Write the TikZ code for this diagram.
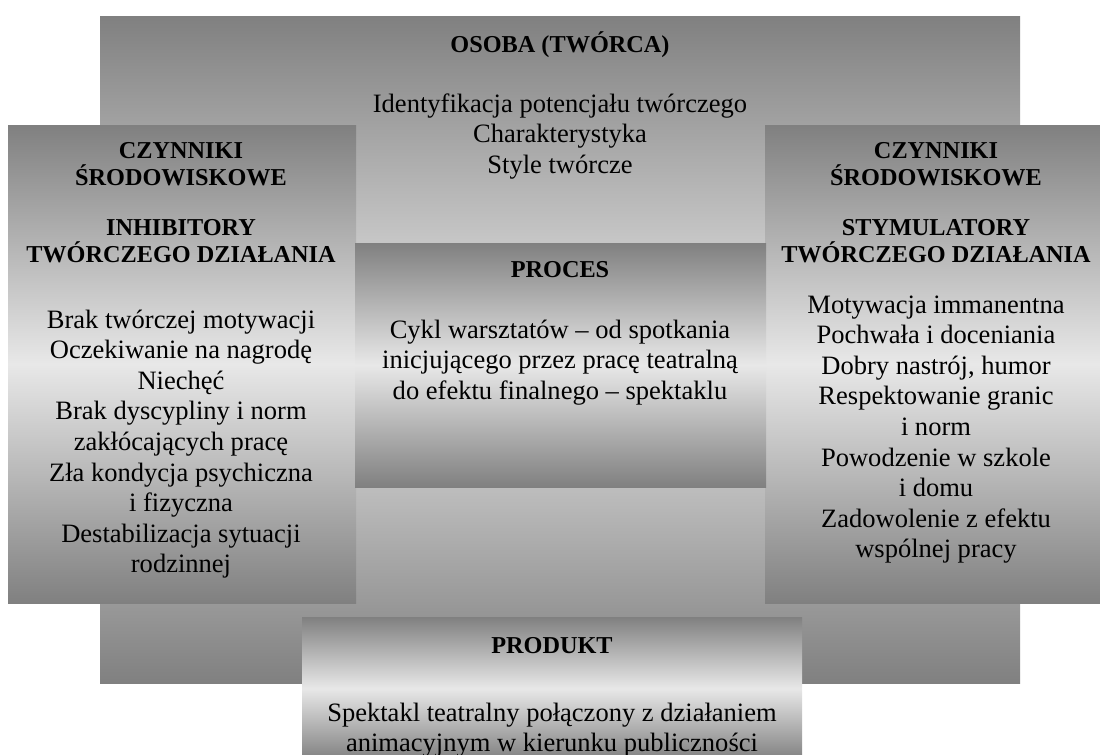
\documentclass[tikz,border=0pt]{standalone}
\usepackage{fontspec}
\setmainfont{Liberation Serif}
\definecolor{gdark}{RGB}{128,128,128}
\definecolor{glight}{RGB}{232,232,232}
\newcommand{\stk}[1]{\vtop{\halign{\hfil##\hfil\cr#1\crcr}}}
\tikzset{
  gbox/.style={top color=gdark, bottom color=gdark, middle color=glight, draw=none},
  txt/.style={anchor=base, inner sep=0pt, font=\fontsize{19.9}{22.95}\selectfont},
  hdr/.style={anchor=base, inner sep=0pt, font=\bfseries\fontsize{18.2}{20.25}\selectfont}
}
\begin{document}
\begin{tikzpicture}[x=0.75pt, y=-0.75pt]
\useasboundingbox (0,0) rectangle (1100,754);
% boxes
\path[gbox] (100,16) rectangle (1020,683);
\path[gbox] (8,125) rectangle (356,603);
\path[gbox] (765,125) rectangle (1108,603);
\path[gbox] (355,243) rectangle (766,487);
\path[gbox] (302,617) rectangle (802,760);
\useasboundingbox (0,0) rectangle (1100,754);
% OSOBA
\node[hdr] (osobaT) at (560,52) {OSOBA (TWÓRCA)};
\node[txt] (osobaB) at (560,112) {\stk{Identyfikacja potencjału twórczego\cr Charakterystyka\cr Style twórcze}};
% left
\node[hdr] (leftA) at (181,158) {\stk{CZYNNIKI\cr ŚRODOWISKOWE}};
\node[hdr] (leftB) at (181,235) {\stk{INHIBITORY\cr TWÓRCZEGO DZIAŁANIA}};
\node[txt] (leftC) at (181,328) {\stk{Brak twórczej motywacji\cr Oczekiwanie na nagrodę\cr Niechęć\cr Brak dyscypliny i norm\cr zakłócających pracę\cr Zła kondycja psychiczna\cr i fizyczna\cr Destabilizacja sytuacji\cr rodzinnej}};
% right
\node[hdr] (rightA) at (936,158) {\stk{CZYNNIKI\cr ŚRODOWISKOWE}};
\node[hdr] (rightB) at (936,235) {\stk{STYMULATORY\cr TWÓRCZEGO DZIAŁANIA}};
\node[txt] (rightC) at (936,313) {\stk{Motywacja immanentna\cr Pochwała i doceniania\cr Dobry nastrój, humor\cr Respektowanie granic\cr i norm\cr Powodzenie w szkole\cr i domu\cr Zadowolenie z efektu\cr wspólnej pracy}};
% PROCES
\node[hdr] (procT) at (560,277) {PROCES};
\node[txt] (procB) at (560,338) {\stk{Cykl warsztatów – od spotkania\cr inicjującego przez pracę teatralną\cr do efektu finalnego – spektaklu}};
% PRODUKT
\node[hdr] (prodT) at (552,653) {PRODUKT};
\node[txt] (prodB) at (552,721) {\stk{Spektakl teatralny połączony z działaniem\cr animacyjnym w kierunku publiczności}};
\end{tikzpicture}
\end{document}
